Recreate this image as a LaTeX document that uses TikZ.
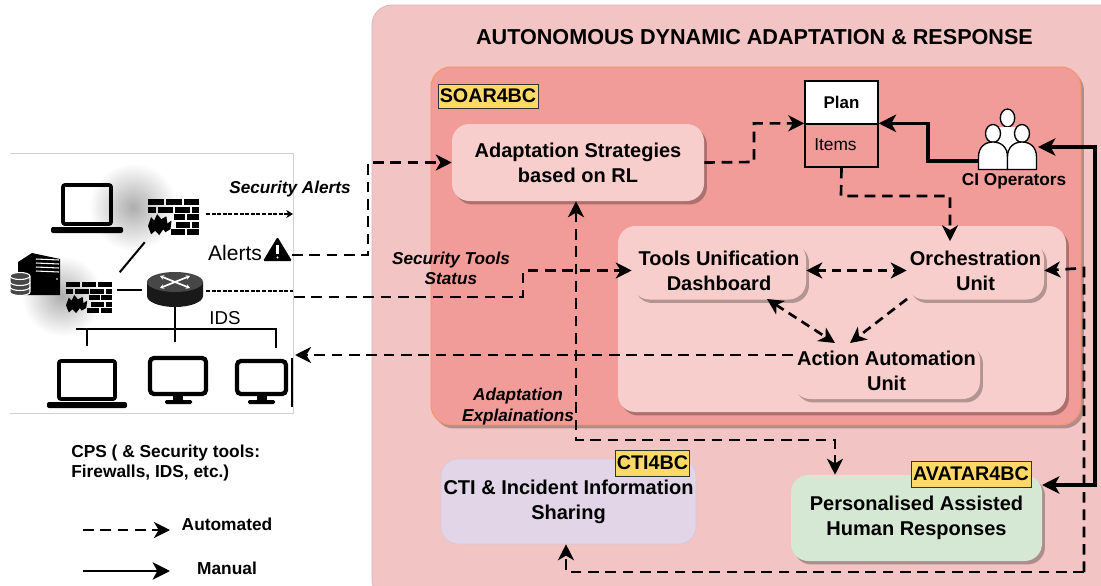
\documentclass[tikz,border=0pt]{standalone}
\usepackage{fontspec}
\setmainfont{Liberation Sans}
\usetikzlibrary{arrows.meta,shadows,calc}
\definecolor{outerc}{HTML}{F2C4C4}
\definecolor{soarc}{HTML}{F19C99}
\definecolor{boxc}{HTML}{F8CECC}
\definecolor{ctic}{HTML}{E1D5E7}
\definecolor{avac}{HTML}{D5E8D4}
\definecolor{yel}{HTML}{FFD966}
\newcommand{\fs}[1]{\fontsize{#1}{#1}\selectfont}
\tikzset{
  x=0.75pt,y=-0.75pt,
  shad/.style={general shadow={fill=black,opacity=.28,shadow xshift=2.2pt,shadow yshift=-2.6pt}},
  panel/.style={rounded corners=#1,inner sep=0pt},
  unitbox/.style={rounded corners=13pt,fill=boxc,inner sep=0pt,align=center,font=\bfseries\fs{15},shad},
  tagbox/.style={fill=yel,draw=black!80,line width=.7pt,inner sep=0pt,font=\bfseries\fs{14.8}},
  autoline/.style={line width=2pt,dash pattern=on 8pt off 5pt,-{Stealth[length=12pt,width=12pt,inset=3.5pt]}},
  autoboth/.style={line width=2pt,dash pattern=on 7pt off 4.5pt,{Stealth[length=12pt,width=12pt,inset=3.5pt]}-{Stealth[length=12pt,width=12pt,inset=3.5pt]}},
  manline/.style={line width=2.4pt,-{Stealth[length=13pt,width=13pt,inset=3.5pt]}},
  manboth/.style={line width=2.4pt,{Stealth[length=13pt,width=13pt,inset=3.5pt]}-{Stealth[length=13pt,width=13pt,inset=3.5pt]}},
  thinauto/.style={line width=.9pt,dash pattern=on 3pt off 1.2pt},
  note/.style={font=\bfseries\itshape\fs{12.9},align=center,inner sep=0pt},
  plain/.style={font=\fs{14.5},inner sep=0pt},
  iconspot/.style={inner sep=0pt,draw=none},
  wire/.style={line width=1.5pt,black},
}
\newcommand{\laptopicon}[8]{%
  \draw[line width=2.8pt,rounded corners=1.5pt] (#1,#2) rectangle (#3,#4);
  \fill[rounded corners=1.5pt] (#5,#7) rectangle (#6,#8);
}
\newcommand{\monitoricon}[8]{%
  \draw[line width=3.2pt,rounded corners=3pt] (#1,#2) rectangle (#3,#4);
  \fill ({(#1+#3)/2-5},#4) rectangle ({(#1+#3)/2+5},#8);
  \fill[rounded corners=1pt] (#5,#7) rectangle (#6,#8);
}
\newcommand{\firewallicon}[4]{%
  \begin{scope}[shift={(#1,#2)},x=#3*0.0075pt,y=-#4*0.0075pt]
    \fill (0,0) rectangle (31,17);\fill (35,0) rectangle (66,17);\fill (70,0) rectangle (100,17);
    \fill (0,21) rectangle (15,38);\fill (19,21) rectangle (49,38);\fill (53,21) rectangle (83,38);\fill (87,21) rectangle (100,38);
    \fill (50,42) rectangle (73,59);\fill (77,42) rectangle (100,59);
    \fill (55,63) rectangle (83,80);\fill (87,63) rectangle (100,80);
    \fill (45,84) rectangle (72,100);\fill (76,84) rectangle (100,100);
    \fill (0,75) -- (6,50) -- (12,60) -- (18,42) -- (26,56) -- (36,48) -- (38,68) -- (46,60) -- (44,84) -- (34,92) -- (30,84) -- (22,100) -- (14,88) -- (6,98) -- cycle;
  \end{scope}
}
\begin{document}
\begin{tikzpicture}
\useasboundingbox (0,0) rectangle (1101,586);
\clip (0,0) rectangle (1101,586);
\fill[white] (0,0) rectangle (1101,586);

% ---------- CPS picture ----------
\draw[black!18,line width=.5pt] (10,153) -- (293,153) -- (293,413) -- (10,413);
\shade[inner color=black!32,outer color=white,draw=none] (133,207) circle (44);
\shade[inner color=black!32,outer color=white,draw=none] (62,296) circle (40);
\laptopicon{63}{185}{111}{224}{51}{123}{227}{233}
\node[iconspot,minimum width=38.25pt,minimum height=27pt] (fw1) at (173.5,217) {};
\firewallicon{148}{199}{51}{36}
% server
\node[iconspot,minimum width=31.5pt,minimum height=31.5pt] (server) at (39,274) {};
\fill (18,262) -- (32,253) -- (60,259) -- (60,295) -- (18,295) -- cycle;
\foreach \yy in {259,263,267,271}{\draw[white,line width=.8pt] (36,\yy) -- (59,\yy+1);}
\fill[white] (57,279) circle (.9);
\fill[black!72,draw=white,line width=.8pt] (10,276) arc (180:360:10 and 3.5) -- (30,292) arc (0:180:10 and 3.5) -- cycle;
\draw[white,line width=.8pt] (10,276) arc (180:0:10 and 3.5) (10,282) arc (180:0:10 and 3.5) (10,287) arc (180:0:10 and 3.5);
\node[iconspot,minimum width=34.5pt,minimum height=23.25pt] (fw2) at (89,297.5) {};
\firewallicon{66}{282}{46}{31}
% router
\node[iconspot,minimum width=42pt,minimum height=26.25pt] (router) at (175,289.5) {};
\fill[black!90] (147,282) -- (147,296) arc (180:0:28 and 11) -- (203,282) -- cycle;
\fill[black!72] (175,282) ellipse (28 and 10);
\foreach \ax/\ay in {160/276,190/276,160/288,190/288}{
  \draw[white,line width=1.3pt,-{Stealth[length=3pt,width=3.5pt]}] (175,282) -- (\ax,\ay);}
\draw[wire] (fw1.south west) ++(-3,7) -- ++(-25,30);
\draw[wire] (117,290) -- (142,290);
\draw[wire] (router.south) -- (175,342);
\coordinate (busl) at (76,329);
\coordinate (busr) at (276,329);
\draw[wire] (busl) -- (busr) -- (276,348);
\draw[wire] (87,329) -- (87,346);
\laptopicon{59}{361}{115}{399}{47}{127}{402}{408}
\monitoricon{150}{358}{206}{394}{165}{192}{400}{404}
\monitoricon{237}{361}{286}{394}{248}{275}{400}{404}
\draw[line width=1.1pt] (292,358) -- (292,407);
\node[plain,font=\fs{15.8},anchor=center] (alertstxt) at (235,253) {Alerts};
\node[iconspot,minimum width=21.75pt,minimum height=18pt] (warn) at (277.5,249) {};
\fill[rounded corners=1pt] (263,261) -- (277.5,237) -- (292,261) -- cycle;
\draw[white,line width=1.6pt] (277.5,245) -- (277.5,254);
\fill[white] (277.5,257.5) circle (1.1);
\node[plain,font=\fs{14}] (idstxt) at (225,318) {IDS};
\coordinate (fwout) at (293,214);
\coordinate (rtout) at (293,291);
\draw[thinauto,-{Stealth[length=5pt,width=6pt,inset=1.5pt]}] (206,214) -- (fwout);
\draw[thinauto] (206,291) -- (rtout);
\node[note] (secalerts) at (290,189) {Security Alerts};

% caption and legend
\node[font=\bfseries\fs{13},align=left,anchor=north west,inner sep=0pt] (cpstxt) at (71,445) {CPS ( \& Security tools:\\[2pt]Firewalls, IDS, etc.)};
\coordinate (leg1a) at (83,530);\coordinate (leg1b) at (170,530);
\coordinate (leg2a) at (83,571);\coordinate (leg2b) at (170,571);
\draw[autoline] (leg1a) -- (leg1b);
\draw[manline,line width=2pt] (leg2a) -- (leg2b);
\node[font=\bfseries\fs{13},inner sep=0pt] (autotxt) at (227,524) {Automated};
\node[font=\bfseries\fs{13},inner sep=0pt] (mantxt) at (227,568) {Manual};

% ---------- panels ----------
\draw[panel=15pt,fill=outerc,draw=black!8!outerc,line width=.6pt] (372,5) rectangle (1125,600);
\node[font=\bfseries\fs{16.2},inner sep=0pt] (title) at (754.5,37) {AUTONOMOUS DYNAMIC ADAPTATION \& RESPONSE};
\path[panel=15pt,fill=soarc,draw=orange!35!soarc,line width=.7pt,shad] (431,67) rectangle (1081,425);
\path[panel=13pt,fill=boxc,shad] (618,226) rectangle (1066,412);

\node[tagbox,minimum width=75pt,minimum height=18pt] (soartag) at (488,96) {SOAR4BC};
\node[unitbox,minimum width=189pt,minimum height=57.75pt] (adapt) at (578,162.5) {Adaptation Strategies\\[3.6pt]based on RL};
\node[draw=black,fill=white,line width=1pt,minimum width=54.75pt,minimum height=32.25pt,inner sep=0pt,font=\bfseries\fs{12.7}] (planhead) at (841.5,102.5) {Plan};
\node[draw=black,line width=1pt,minimum width=54.75pt,minimum height=32.25pt,inner sep=0pt] (planbody) at (841.5,145.5) {};
\node[font=\fs{13},inner sep=0pt,anchor=west] (items) at (814,145) {Items};
\node[unitbox,minimum width=130.5pt,minimum height=43.5pt] (tools) at (719,270.5) {Tools Unification\\[3.6pt]Dashboard};
\node[unitbox,minimum width=102.75pt,minimum height=43.5pt] (orch) at (975.5,270.5) {Orchestration\\[3.6pt]Unit};
\node[unitbox,minimum width=140.25pt,minimum height=42pt] (action) at (886.5,371) {Action Automation\\[3.6pt]Unit};

% operators
\node[iconspot,minimum width=44.25pt,minimum height=44.25pt] (ops) at (1007.5,139.5) {};
\begin{scope}[draw=black,fill=white,line width=1pt]
 \filldraw (1007.5,118) ellipse (7.2 and 9);
 \fill[white] (998,127) rectangle (1017,150);
 \filldraw (993,133.5) ellipse (7.5 and 9);
 \filldraw (1022,133.5) ellipse (7.5 and 9);
 \filldraw (978.5,169.5) -- (978.5,157) .. controls (978.5,147) and (985,142) .. (993,142) .. controls (1001,142) and (1007.5,147) .. (1007.5,157) -- (1007.5,169.5) -- cycle;
 \filldraw (1007.5,169.5) -- (1007.5,157) .. controls (1007.5,147) and (1014,142) .. (1022,142) .. controls (1030,142) and (1036.5,147) .. (1036.5,157) -- (1036.5,169.5) -- cycle;
\end{scope}
\node[font=\bfseries\fs{12.9},inner sep=0pt] (opstxt) at (1014,181.5) {CI Operators};

% lower boxes
\node[rounded corners=13pt,fill=ctic,draw=black!6!ctic,inner sep=0pt,align=center,font=\bfseries\fs{15},minimum width=191.25pt,minimum height=63.75pt] (cti) at (568.5,501.5) {CTI \& Incident Information\\[3.6pt]Sharing};
\node[tagbox,minimum width=56pt,minimum height=19.5pt] (ctitag) at (652.5,463) {CTI4BC};
\node[unitbox,fill=avac,minimum width=188.25pt,minimum height=64.5pt] (avatar) at (916.5,518) {Personalised Assisted\\[3.6pt]Human Responses};
\node[tagbox,minimum width=90pt,minimum height=19.5pt] (avatag) at (971,474) {AVATAR4BC};

% notes
\node[note] (tstat) at (451,268.5) {Security Tools\\[2.6pt]Status};
\node[note] (adexp) at (518,406.5) {Adaptation\\[2.6pt]Explainations};

% ---------- connectors ----------
\coordinate (warnout) at (292,255);
\coordinate (w1) at (368,255);
\draw[autoline] (warnout) -- (w1) |- (adapt.west);
\coordinate (rtthick) at (294,297);
\coordinate (w2) at (523,297);
\draw[autoline] (rtthick) -- (w2) |- (tools.west);
\coordinate (w3) at (754,162);
\draw[autoline] (adapt.east) -- (w3) |- (planbody.north west);
\coordinate (opsout) at (978,161);
\coordinate (w4) at (928,161);
\draw[manline] (opsout) -- (w4) |- (planbody.north east);
\coordinate (w5) at (841,196);
\coordinate (w6) at (950,196);
\draw[autoline] (planbody.south) -- (w5) -- (w6) -- (orch.north -| w6);
\draw[autoboth] (tools.east) -- (orch.west);
\coordinate (ta) at (767,299);\coordinate (aa) at (835,343);
\draw[autoboth] (ta) -- (aa);
\coordinate (ob) at (907,299);\coordinate (ab) at (850,343);
\draw[autoline,dash pattern=on 7pt off 4.5pt] (ob) -- (ab);
\coordinate (actout) at (793,355);\coordinate (cpsin) at (295,355);
\draw[autoline] (actout) -- (cpsin);
\coordinate (w7) at (576,440);\coordinate (w8) at (835,440);
\draw[autoboth,dash pattern=on 8pt off 5pt] (adapt.south -| w7) -- (w7) -- (w8) -- (avatar.north -| w8);
\coordinate (w9) at (1084,268);\coordinate (w10) at (1084,572);\coordinate (w11) at (566,572);
\draw[autoline] (w10) -- (w9) -- (orch.east);
\draw[autoline] (w10) -- (w11) -- (cti.south -| w11);
\coordinate (w12) at (1095,147);\coordinate (w13) at (1095,485);
\coordinate (opsin) at (1038,147);\coordinate (avin) at (1042,485);
\draw[manboth] (opsin) -- (w12) -- (w13) -- (avin);
\end{tikzpicture}
\end{document}
